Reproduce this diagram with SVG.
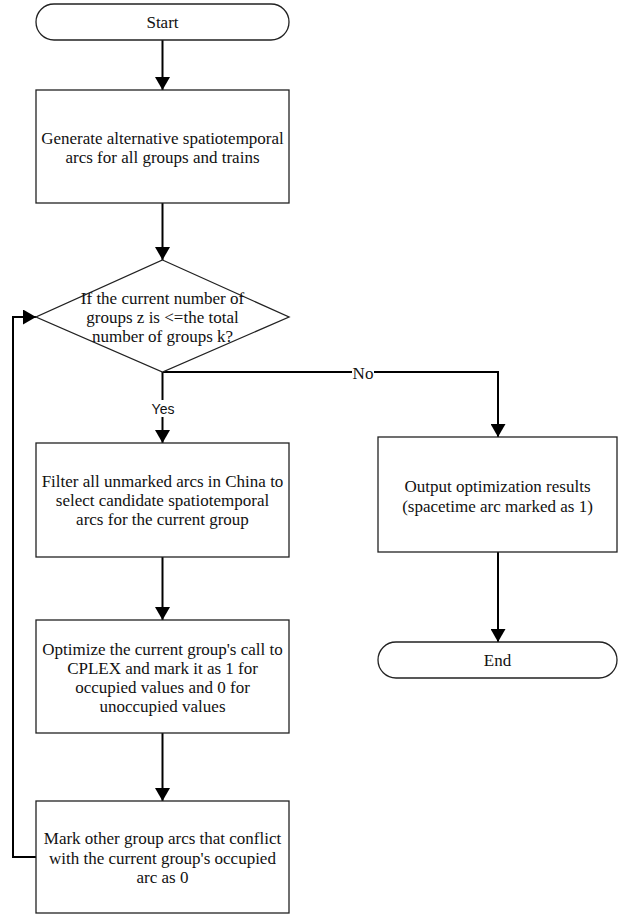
<svg xmlns="http://www.w3.org/2000/svg" width="628" height="917" viewBox="0 0 628 917">
<style>
.shape{fill:#fff;stroke:#222;stroke-width:1.3}
.t{font-family:"Liberation Serif","Times New Roman",serif;font-size:17px;fill:#111;text-anchor:middle}
.lbl{font-family:"Liberation Sans",Arial,sans-serif;font-size:14px;fill:#111;text-anchor:middle}
.c{fill:none;stroke:#000;stroke-width:2}
</style>
<defs>
<marker id="ah" markerUnits="userSpaceOnUse" markerWidth="14" markerHeight="15" refX="13" refY="7.5" orient="auto">
<path d="M0,0 L13,7.5 L0,15 Z" fill="#000"/>
</marker>
</defs>
<rect width="628" height="917" fill="#fff"/>
<g id="connectors">
<path class="c" d="M162.5,40 V90" marker-end="url(#ah)"/>
<path class="c" d="M162.5,203 V260" marker-end="url(#ah)"/>
<path class="c" d="M162.5,372 V443" marker-end="url(#ah)"/>
<path class="c" d="M162.5,372 H352 M374,372 H498 V437" marker-end="url(#ah)"/>
<path class="c" d="M162.5,557 V620" marker-end="url(#ah)"/>
<path class="c" d="M162.5,733 V801" marker-end="url(#ah)"/>
<path class="c" d="M498,552 V642" marker-end="url(#ah)"/>
<path class="c" d="M36,857 H13 V317 H36" marker-end="url(#ah)"/>
<rect x="150" y="400" width="26" height="17" fill="#fff"/>
<text class="lbl" x="163" y="414">Yes</text>
<text class="t" x="363" y="378.5">No</text>
</g>
<g id="start">
<rect class="shape" x="36" y="4" width="253" height="36" rx="18" ry="18"/>
<text class="t" x="162.5" y="27.5">Start</text>
</g>
<g id="generate">
<rect class="shape" x="36" y="90" width="253" height="113"/>
<text class="t" x="162.5" y="143.5">Generate alternative spatiotemporal</text>
<text class="t" x="162.5" y="162.5">arcs for all groups and trains</text>
</g>
<g id="decision">
<polygon class="shape" points="162.5,260 289,317 162.5,372 36,317"/>
<text class="t" x="162.5" y="303.5">If the current number of</text>
<text class="t" x="162.5" y="322.5">groups z is &lt;=the total</text>
<text class="t" x="162.5" y="341.5">number of groups k?</text>
</g>
<g id="filter">
<rect class="shape" x="36" y="443" width="253" height="114"/>
<text class="t" x="162.5" y="486.5">Filter all unmarked arcs in China to</text>
<text class="t" x="162.5" y="505.5">select candidate spatiotemporal</text>
<text class="t" x="162.5" y="524.5">arcs for the current group</text>
</g>
<g id="optimize">
<rect class="shape" x="36" y="620" width="253" height="113"/>
<text class="t" x="162.5" y="654.5">Optimize the current group's call to</text>
<text class="t" x="162.5" y="673.5">CPLEX and mark it as 1 for</text>
<text class="t" x="162.5" y="692.5">occupied values and 0 for</text>
<text class="t" x="162.5" y="711.5">unoccupied values</text>
</g>
<g id="mark">
<rect class="shape" x="36" y="801" width="253" height="112"/>
<text class="t" x="162.5" y="844">Mark other group arcs that conflict</text>
<text class="t" x="162.5" y="863.5">with the current group's occupied</text>
<text class="t" x="162.5" y="883">arc as 0</text>
</g>
<g id="output">
<rect class="shape" x="378" y="437" width="239" height="115"/>
<text class="t" x="497.5" y="492">Output optimization results</text>
<text class="t" x="497.5" y="511.5">(spacetime arc marked as 1)</text>
</g>
<g id="end">
<rect class="shape" x="378" y="642" width="239" height="36" rx="18" ry="18"/>
<text class="t" x="497.5" y="665.5">End</text>
</g>
</svg>
